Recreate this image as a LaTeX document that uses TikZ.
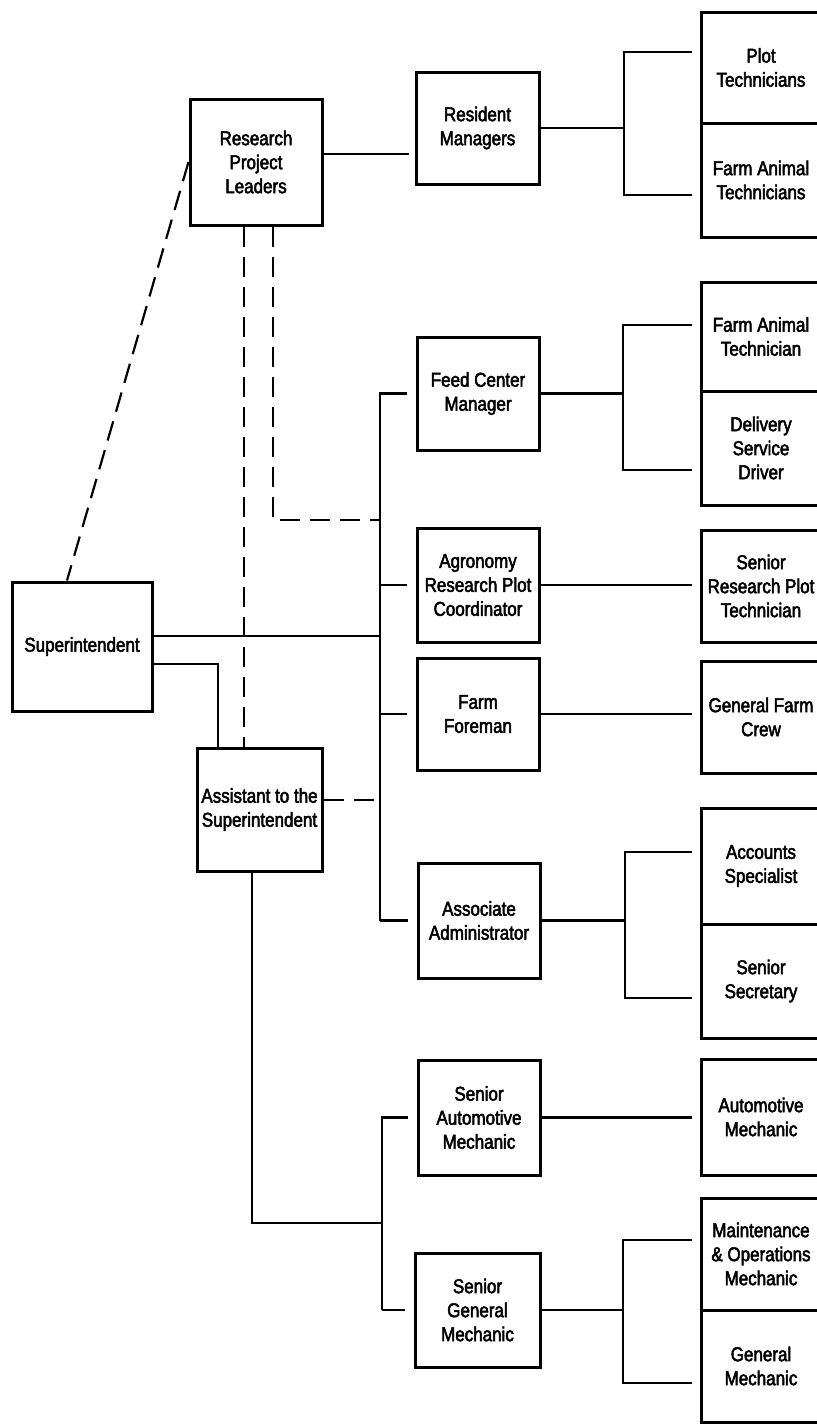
\documentclass[tikz,border=0pt]{standalone}
\usepackage{fontspec}
\newfontfamily\orgfont{Liberation Sans}[FakeStretch=0.85, FakeBold=2.5]
\usepackage{tikz}
\tikzset{post/.style={draw, line width=1.5pt, align=center, inner sep=0pt, font=\orgfont\fontsize{10}{12}\selectfont},
    link/.style={line width=1.1pt},
    linkdash/.style={link, dash pattern=on 10pt off 5pt}}

\begin{document}
\begin{tikzpicture}[x=0.5pt, y=-0.5pt]%Farm staff chart
    \useasboundingbox (0,0) rectangle (816,1425);
    %the boxes on the left
    \node[post, minimum width=66pt, minimum height=63pt] (rpl) at (256,162) {Research\\Project\\Leaders};
    \node[post, minimum width=70pt, minimum height=64.5pt] (sup) at (82,646.5) {Superintendent};
    \node[post, minimum width=62.5pt, minimum height=61.5pt] (ast) at (259.5,809.5) {Assistant to the\\Superintendent};
    %the middle column
    \node[post, minimum width=61.5pt, minimum height=56pt] (rm) at (477.5,128) {Resident\\Managers};
    \node[post, minimum width=61pt, minimum height=56.5pt] (fcm) at (478,393.5) {Feed Center\\Manager};
    \node[post, minimum width=61pt, minimum height=57pt] (arpc) at (478,585) {Agronomy\\Research Plot\\Coordinator};
    \node[post, minimum width=61pt, minimum height=56pt] (ff) at (478,714) {Farm\\Foreman};
    \node[post, minimum width=61pt, minimum height=57.5pt] (aa) at (479,920.5) {Associate\\Administrator};
    \node[post, minimum width=61pt, minimum height=57.5pt] (sam) at (479,1117.5) {Senior\\Automotive\\Mechanic};
    \node[post, minimum width=62.5pt, minimum height=57pt] (sgm) at (477.5,1310) {Senior\\General\\Mechanic};
    %the right column
    \node[post, minimum width=60pt, minimum height=55.5pt] (pt) at (761,67.5) {Plot\\Technicians};
    \node[post, minimum width=60pt, minimum height=57pt] (fat) at (761,180) {Farm Animal\\Technicians};
    \node[post, minimum width=60pt, minimum height=54.5pt] (fatn) at (761,336.5) {Farm Animal\\Technician};
    \node[post, minimum width=60pt, minimum height=57pt] (dsd) at (761,448) {Delivery\\Service\\Driver};
    \node[post, minimum width=60pt, minimum height=56pt] (srpt) at (761,586) {Senior\\Research Plot\\Technician};
    \node[post, minimum width=60pt, minimum height=56pt] (gfc) at (761,717) {General Farm\\Crew};
    \node[post, minimum width=60pt, minimum height=58pt] (acs) at (761,866) {Accounts\\Specialist};
    \node[post, minimum width=60pt, minimum height=57pt] (ss) at (761,981) {Senior\\Secretary};
    \node[post, minimum width=60pt, minimum height=58pt] (am) at (761,1117) {Automotive\\Mechanic};
    \node[post, minimum width=60pt, minimum height=56pt] (mom) at (761,1254) {Maintenance\\\& Operations\\Mechanic};
    \node[post, minimum width=60pt, minimum height=56pt] (gm) at (761,1366) {General\\Mechanic};
    %the trunks and brackets
    \coordinate (tr) at (380,520);
    \coordinate (tb) at (382,1223);
    \coordinate (k1) at (624,0);
    \coordinate (k2) at (623,0);
    \coordinate (k3) at (625,0);
    \coordinate (k4) at (623,0);
    %the lines
    \draw[link, shorten >=3pt] ([yshift=4pt]rpl.east) -- ([yshift=4pt]rpl.east -| rm.west);
    \draw[link] (rm.east) -- (rm.east -| k1);
    \draw[link, shorten >=4pt] (rm.east -| k1) |- ([yshift=7.75pt]pt.west);
    \draw[link, shorten >=4pt] (rm.east -| k1) |- ([yshift=-7.5pt]fat.west);
    \draw[link] (fcm.east) -- (fcm.east -| k2);
    \draw[link, shorten >=4pt] (fcm.east -| k2) |- ([yshift=5.75pt]fatn.west);
    \draw[link, shorten >=4pt] (fcm.east -| k2) |- ([yshift=-11pt]dsd.west);
    \draw[link, shorten >=4pt] (arpc.east) -- (arpc.east -| srpt.west);
    \draw[link, shorten >=4pt] (ff.east) -- (ff.east -| gfc.west);
    \draw[link] (aa.east) -- (aa.east -| k3);
    \draw[link, shorten >=4pt] (aa.east -| k3) |- ([yshift=7pt]acs.west);
    \draw[link, shorten >=4pt] (aa.east -| k3) |- ([yshift=-8.5pt]ss.west);
    \draw[link, shorten >=4pt] (sam.east) -- (sam.east -| am.west);
    \draw[link] (sgm.east) -- (sgm.east -| k4);
    \draw[link, shorten >=4pt] (sgm.east -| k4) |- ([yshift=7pt]mom.west);
    \draw[link, shorten >=4pt] (sgm.east -| k4) |- ([yshift=-8.5pt]gm.west);
    %upper trunk
    \draw[link, shorten >=4.5pt] (tr |- aa.west) |- (fcm.west);
    \draw[link, shorten >=4.5pt] (tr |- arpc.west) -- (arpc.west);
    \draw[link, shorten >=4.5pt] (tr |- ff.west) -- (ff.west);
    \draw[link, shorten >=4.5pt] (tr |- aa.west) -- (aa.west);
    \draw[link] ([yshift=5.25pt]sup.east) -- ([yshift=5.25pt]sup.east -| tr);
    \draw[link] ([yshift=-8.75pt]sup.east) -| ([xshift=-20.75pt]ast.north);
    %the dashed lines
    \draw[linkdash] (rpl.west) -- ([xshift=-7.5pt]sup.north);
    \draw[linkdash] ([xshift=-6pt]rpl.south) -- ([xshift=-6pt]rpl.south |- ast.north);
    \draw[linkdash] ([xshift=8.5pt]rpl.south) |- (tr);
    \draw[linkdash] ([yshift=4.75pt]ast.east) -- ([yshift=4.75pt]ast.east -| tr);
    %lower trunk
    \draw[link] ([xshift=-3.75pt]ast.south) |- (tb);
    \draw[link, shorten >=4.5pt] (tb |- sgm.west) |- (sam.west);
    \draw[link, shorten >=4.5pt] (tb |- sgm.west) -- (sgm.west);
\end{tikzpicture}
\end{document}
